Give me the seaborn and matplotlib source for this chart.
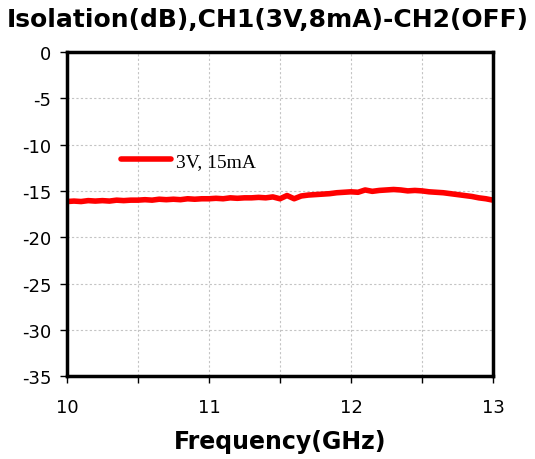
import matplotlib
matplotlib.use("Agg")
import matplotlib.pyplot as plt
import seaborn as sns
import pandas as pd
import numpy as np

freq_ghz = [10.00, 10.05, 10.10, 10.15, 10.20, 10.25, 10.30, 10.35, 10.40, 10.45,
            10.50, 10.55, 10.60, 10.65, 10.70, 10.75, 10.80, 10.85, 10.90, 10.95,
            11.00, 11.05, 11.10, 11.15, 11.20, 11.25, 11.30, 11.35, 11.40, 11.45,
            11.50, 11.55, 11.60, 11.65, 11.70, 11.75, 11.80, 11.85, 11.90, 11.95,
            12.00, 12.05, 12.10, 12.15, 12.20, 12.25, 12.30, 12.35, 12.40, 12.45,
            12.50, 12.55, 12.60, 12.65, 12.70, 12.75, 12.80, 12.85, 12.90, 12.95, 13.00]
isolation_db = [-16.15, -16.10, -16.15, -16.05, -16.10, -16.05, -16.10, -16.00, -16.05, -16.00,
                -16.00, -15.95, -16.00, -15.90, -15.95, -15.90, -15.95, -15.85, -15.90, -15.85,
                -15.85, -15.80, -15.85, -15.75, -15.80, -15.75, -15.75, -15.70, -15.75, -15.65,
                -15.85, -15.50, -15.85, -15.55, -15.45, -15.40, -15.35, -15.30, -15.20, -15.15,
                -15.10, -15.15, -14.90, -15.05, -14.95, -14.90, -14.85, -14.90, -15.00, -14.95,
                -15.00, -15.10, -15.15, -15.20, -15.30, -15.40, -15.50, -15.60, -15.75, -15.85, -16.00]
series_label = "3V, 15mA"
title_text = "Isolation(dB),CH1(3V,8mA)-CH2(OFF)"
x_label = "Frequency(GHz)"
x_ticks = [10, 11, 12, 13]
y_ticks = [0, -5, -10, -15, -20, -25, -30, -35]

df = pd.DataFrame({"freq": freq_ghz, "iso": isolation_db, "series": series_label})

sns.set_style("white")
plt.rcParams['font.family'] = ['DejaVu Sans']
plt.rcParams['text.color'] = 'black'
plt.rcParams['axes.labelcolor'] = 'black'
plt.rcParams['xtick.color'] = 'black'
plt.rcParams['ytick.color'] = 'black'

fig = plt.figure(figsize=(5.35, 4.6), dpi=100)
ax = fig.add_axes([0.125, 0.180, 0.7965, 0.705])

sns.lineplot(data=df, x="freq", y="iso", hue="series", palette=["#ff0000"],
             linewidth=4.0, ax=ax, legend=True)

ax.set_xlim(10, 13)
ax.set_ylim(-35, 0)
ax.set_xticks(x_ticks)
ax.set_xticks([10.5, 11.5, 12.5], minor=True)
ax.set_yticks(y_ticks)
ax.set_xticklabels([str(t) for t in x_ticks], fontsize=13)
ax.set_yticklabels([str(t) for t in y_ticks], fontsize=13)
ax.tick_params(axis='both', which='both', direction='out', length=5, width=1, color='black',
               labelcolor='black', bottom=True, left=True)
ax.tick_params(axis='x', pad=11)
ax.tick_params(axis='y', pad=6)

ax.grid(True, which='both', axis='x', color='#c4c4c4', linestyle=(0, (2, 2)), linewidth=0.8)
ax.grid(True, which='major', axis='y', color='#c4c4c4', linestyle=(0, (2, 2)), linewidth=0.8)
for s in ax.spines.values():
    s.set_visible(True)
    s.set_color('black')
    s.set_linewidth(2.5)

ax.set_xlabel(x_label, fontsize=17, fontweight='bold', labelpad=9, color='black')
ax.set_ylabel("")
fig.suptitle(title_text, x=0.5, y=0.982, fontsize=18, fontweight='bold', color='black')

leg = ax.legend(loc='upper left', bbox_to_anchor=(0.085, 0.745), frameon=False,
                handlelength=2.6, handletextpad=0.25,
                prop={'family': 'Liberation Serif', 'size': 14})
for line in leg.get_lines():
    line.set_linewidth(4)
for t in leg.get_texts():
    t.set_color('black')

fig.savefig("out.png", dpi=100)
